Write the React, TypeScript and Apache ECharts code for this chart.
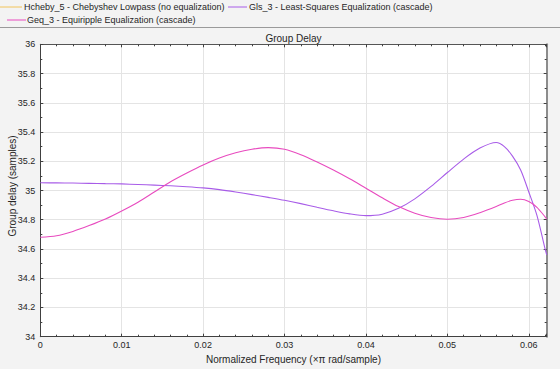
import React, { useEffect, useRef } from "react";
import * as echarts from "echarts";

const seriesNames = [
  "Hcheby_5 - Chebyshev Lowpass (no equalization)",
  "Gls_3 - Least-Squares Equalization (cascade)",
  "Geq_3 - Equiripple Equalization (cascade)",
];
const seriesColors = ["#f2c45a", "#a85ce8", "#e84bbf"];

const freq = [
  0, 0.002, 0.004, 0.006, 0.008, 0.01, 0.012, 0.014, 0.016, 0.018, 0.02, 0.022, 0.024, 0.026, 0.028, 0.03,
  0.032, 0.034, 0.036, 0.038, 0.04, 0.042, 0.044, 0.046, 0.048, 0.05, 0.052, 0.054, 0.056, 0.057, 0.058,
  0.059, 0.06, 0.061, 0.062, 0.0622,
];
const glsDelay = [
  35.053, 35.052, 35.051, 35.049, 35.047, 35.045, 35.041, 35.037, 35.032, 35.026, 35.018, 35.006, 34.99,
  34.972, 34.953, 34.933, 34.91, 34.885, 34.861, 34.84, 34.828, 34.838, 34.878, 34.943, 35.028, 35.123, 35.215,
  35.29, 35.328, 35.3, 35.235, 35.14, 34.99, 34.83, 34.6, 34.56,
];
const geqDelay = [
  34.68, 34.69, 34.72, 34.76, 34.805, 34.86, 34.92, 34.99, 35.06, 35.12, 35.175, 35.222, 35.258, 35.282,
  35.293, 35.282, 35.245, 35.195, 35.14, 35.08, 35.015, 34.95, 34.89, 34.845, 34.815, 34.803, 34.815, 34.848,
  34.89, 34.915, 34.933, 34.94, 34.925, 34.885, 34.82, 34.805,
];

const xMin = 0;
const xMax = 0.0622;
const yMin = 34;
const yMax = 36;
const yAxisTitle = "Group delay (samples)";

const FONT = "Liberation Sans, Arial, sans-serif";
const TXT = "#262626";

export default function App() {
  const ref = useRef<HTMLDivElement>(null);
  useEffect(() => {
    if (!ref.current) return;
    const chart = echarts.init(ref.current, undefined, { renderer: "svg" });
    const fmt = (v: number) => String(parseFloat(v.toFixed(4)));
    const baseAxis = {
      axisLine: { show: true, onZero: false, lineStyle: { color: "#404040", width: 1 } },
      axisTick: { show: true, inside: true, length: 3, lineStyle: { color: "#404040" } },
      minorTick: { show: true, length: 2, lineStyle: { color: "#404040" } },
    };
    const legendItems: any[] = [];
    const legendPos = [
      { x1: 0, x2: 22, y: 7, tx: 24 },
      { x1: 228, x2: 247, y: 7, tx: 249 },
      { x1: 7, x2: 26, y: 20, tx: 27 },
    ];
    seriesNames.forEach((n, i) => {
      const p = legendPos[i];
      legendItems.push({
        type: "line",
        shape: { x1: p.x1, y1: p.y, x2: p.x2, y2: p.y },
        style: { stroke: seriesColors[i], lineWidth: 1 },
      });
      legendItems.push({
        type: "text",
        x: p.tx,
        y: p.y,
        style: { text: n, fill: TXT, font: `9px ${FONT}`, textVerticalAlign: "middle" },
      });
    });
    chart.setOption({
      animation: false,
      backgroundColor: "#f3f3f3",
      textStyle: { fontFamily: FONT },
      title: {
        text: "Group Delay",
        left: 293.5,
        top: 33,
        padding: 0,
        textAlign: "center",
        textStyle: { fontSize: 10, fontWeight: "normal", color: TXT, fontFamily: FONT },
      },
      grid: {
        left: 40.3,
        right: 13.3,
        top: 44.3,
        bottom: 32.3,
        containLabel: false,
        outerBoundsMode: "none",
        show: true,
        backgroundColor: "#ffffff",
        borderWidth: 0,
      },
      xAxis: [
        {
          ...baseAxis,
          type: "value",
          min: xMin,
          max: xMax,
          interval: 0.01,
          minorTick: { ...baseAxis.minorTick, splitNumber: 5 },
          axisLabel: { color: TXT, fontSize: 9, margin: 4, formatter: fmt, showMaxLabel: false },
          splitLine: { show: true, lineStyle: { color: "#e4e4e4", width: 1 } },
          name: "Normalized Frequency (×π rad/sample)",
          nameLocation: "middle",
          nameGap: 12,
          nameTextStyle: { color: TXT, fontSize: 10, fontFamily: FONT },
        },
        {
          ...baseAxis,
          type: "value",
          position: "top",
          min: xMin,
          max: xMax,
          interval: 0.01,
          minorTick: { ...baseAxis.minorTick, splitNumber: 5 },
          axisLabel: { show: false },
          splitLine: { show: false },
          axisLine: { show: true, onZero: false, lineStyle: { color: "#555555", width: 1 } },
        },
      ],
      yAxis: [
        {
          ...baseAxis,
          type: "value",
          min: yMin,
          max: yMax,
          interval: 0.2,
          minorTick: { ...baseAxis.minorTick, splitNumber: 2 },
          axisLabel: { color: TXT, fontSize: 9, margin: 5, formatter: fmt },
          splitLine: { show: true, lineStyle: { color: "#e4e4e4", width: 1 } },
        },
        {
          ...baseAxis,
          type: "value",
          position: "right",
          min: yMin,
          max: yMax,
          interval: 0.2,
          minorTick: { ...baseAxis.minorTick, splitNumber: 2 },
          axisLabel: { show: false },
          splitLine: { show: false },
          axisLine: { show: true, onZero: false, lineStyle: { color: "#8c8c8c", width: 2 } },
        },
      ],
      series: [
        {
          name: seriesNames[0],
          type: "line",
          data: [],
          showSymbol: false,
          lineStyle: { color: seriesColors[0], width: 1 },
        },
        {
          name: seriesNames[1],
          type: "line",
          data: freq.map((f, i) => [f, glsDelay[i]]),
          smooth: 0.3,
          showSymbol: false,
          clip: true,
          lineStyle: { color: seriesColors[1], width: 1.1 },
          itemStyle: { color: seriesColors[1] },
        },
        {
          name: seriesNames[2],
          type: "line",
          data: freq.map((f, i) => [f, geqDelay[i]]),
          smooth: 0.3,
          showSymbol: false,
          clip: true,
          lineStyle: { color: seriesColors[2], width: 1.1 },
          itemStyle: { color: seriesColors[2] },
        },
      ],
      graphic: [
        {
          type: "line",
          shape: { x1: 0, y1: 27.5, x2: 560, y2: 27.5 },
          style: { stroke: "#9a9a9a", lineWidth: 1 },
        },
        {
          type: "text",
          x: 12,
          y: 186,
          rotation: Math.PI / 2,
          style: {
            text: yAxisTitle,
            fill: TXT,
            font: `10px ${FONT}`,
            textAlign: "center",
            textVerticalAlign: "middle",
          },
        },
        ...legendItems,
      ],
    });
    return () => chart.dispose();
  }, []);
  return (
    <div
      ref={ref}
      style={{ position: "fixed", left: 0, top: 0, width: 560, height: 369 }}
    />
  );
}
